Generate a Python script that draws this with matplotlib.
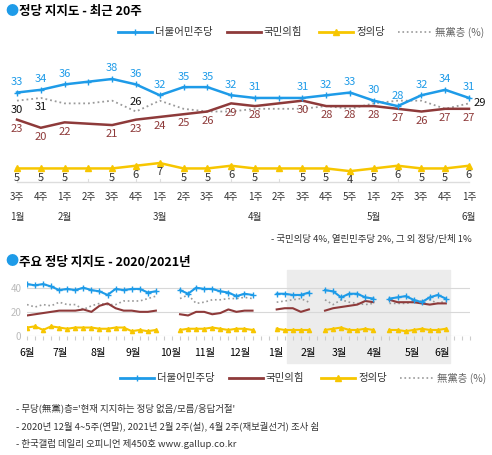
import matplotlib
matplotlib.use("Agg")
import matplotlib.pyplot as plt
import numpy as np
from matplotlib.patches import Rectangle
from matplotlib.lines import Line2D

plt.rcParams['font.family'] = ['Noto Sans CJK KR', 'DejaVu Sans']

BLUE = '#1E9BE8'; RED = '#8E3A3A'; YEL = '#F7C600'; GRAY = '#9A9A9A'

# ---- top chart: recent 20 weeks
weeks = ['3주','4주','1주','2주','3주','4주','1주','2주','3주','4주','1주','2주','3주','4주','5주','1주','2주','3주','4주','1주']
months = {0:'1월', 2:'2월', 6:'3월', 10:'4월', 15:'5월', 19:'6월'}
dem = [33,34,36,37,38,36,32,35,35,32,31,31,31,32,33,30,28,32,34,31]
dem_lbl = [1,1,1,0,1,1,1,1,1,1,1,0,1,1,1,1,1,1,1,1]
ppp = [23,20,22,21.5,21,23,24,25,26,29,28,29,30,28,28,28,27,26,27,27]
ppp_lbl = [1,1,1,0,1,1,1,1,1,1,1,0,1,1,1,1,1,1,1,1]
jus = [5,5,5,5,5,6,7,5,5,6,5,5,5,5,4,5,6,5,5,6]
jus_lbl = [1,1,1,0,1,1,1,1,1,1,1,0,1,1,1,1,1,1,1,1]
ind = [30,31,29,29,30,26,30,27,26,26,27,27,27,28,27,29,30,30,27,29]
ind_lbl = [1,1,0,0,0,1,0,0,0,0,0,0,0,0,0,0,0,0,0,1]

# ---- bottom chart: weekly 2020/2021 (None = no survey)
N = None
dem2 = [43,42,43,41,38,39,38,40,38,37,34,39,38,39,39,36,37, N,N, 38,35,40,39,39,37,36,33,35,34, N,N, 35,35,34,34,36, N, 38,37,32,35,35,32,31, N, 31,32,33,30,28,32,34,31]
ppp2 = [17,18,19,20,21,21,21,22,20,25,27,23,21,21,20,20,21, N,N, 18,17,20,20,18,19,22,20,21,21, N,N, 22,23,23,20,22, N, 21,23,24,25,26,29,28, N, 30,28,28,28,27,26,27,27]
jus2 = [7,8,5,8,7,6,7,7,7,6,6,7,7,4,5,4,5, N,N, 5,6,6,6,7,6,5,6,6,5, N,N, 6,5,5,5,5, N, 5,6,7,5,5,6,5, N, 5,5,4,5,6,5,5,6]
ind2 = [26,24,26,25,28,26,26,22,25,27,26,26,29,29,29,31,33, N,N, 31,34,27,28,30,30,31,31,32,31, N,N, 28,29,30,31,28, N, 30,26,30,28,27,26,27, N, 27,27,27,28,29,30,27,29]
month_lbl2 = ['6월','7월','8월','9월','10월','11월','12월','1월','2월','3월','4월','5월','6월']
month_pos2 = [0,4.1,8.8,13.2,17.8,22.1,26.4,30.9,34.9,38.8,43.2,47.9,51.5]

W, H = 492, 455
fig = plt.figure(figsize=(W/100, H/100), dpi=100)

def fx(x): return x / W
def fy(y): return 1 - y / H

# titles
fig.text(fx(5), fy(12), '●', color=BLUE, fontsize=9.5, va='center')
fig.text(fx(19), fy(12), '정당 지지도 - 최근 20주', fontsize=9, fontweight='bold', va='center')
fig.text(fx(5), fy(262), '●', color=BLUE, fontsize=9.5, va='center')
fig.text(fx(19), fy(262), '주요 정당 지지도 - 2020/2021년', fontsize=9, fontweight='bold', va='center')

def legend(y, x0):
    items = [('더불어민주당', BLUE, '-', '+'), ('국민의힘', RED, '-', None),
             ('정의당', YEL, '-', '^'), ('無黨층 (%)', GRAY, ':', None)]
    xs = x0
    widths = [72, 55, 42, 60]
    for (name, c, ls, m), w in zip(items, widths):
        fig.add_artist(Line2D([fx(xs), fx(xs+34)], [fy(y), fy(y)], color=c, ls=ls, lw=2 if ls == '-' else 1.2))
        if m:
            fig.add_artist(Line2D([fx(xs+17)], [fy(y)], color=c, marker=m, ms=4, lw=0))
        fig.text(fx(xs+37), fy(y), name, fontsize=7.5, va='center', color='#333' if ls == '-' else '#666')
        xs += 37 + w
legend(32, 118)
legend(378, 120)

# top axes
ax = fig.add_axes([fx(17), fy(182), fx(469) - fx(17), (182 - 60) / H])
ax.set_xlim(0, 19); ax.set_ylim(0, 45)
ax.axis('off')
x = np.arange(20)
ax.plot([0, 19], [0, 0], color='#ddd', lw=1, clip_on=False)
for i in x:
    ax.plot([i, i], [0, 1], color='#ddd', lw=0.8)
ax.plot(x, ind, color=GRAY, ls=':', lw=1.3, clip_on=False)
ax.plot(x, ppp, color=RED, lw=1.8, clip_on=False)
ax.plot(x, dem, color=BLUE, lw=1.8, marker='+', ms=5, clip_on=False)
ax.plot(x, jus, color=YEL, lw=1.8, marker='^', ms=4, clip_on=False)
fs = 8
for i in x:
    if dem_lbl[i]: ax.annotate(str(dem[i]), (i, dem[i]), xytext=(0, 4), textcoords='offset points', ha='center', va='bottom', color=BLUE, fontsize=fs)
    if ppp_lbl[i]: ax.annotate(str(int(ppp[i])), (i, ppp[i]), xytext=(0, -3), textcoords='offset points', ha='center', va='top', color=RED, fontsize=fs)
    if jus_lbl[i]: ax.annotate(str(jus[i]), (i, jus[i]), xytext=(0, -3), textcoords='offset points', ha='center', va='top', color='#333', fontsize=fs)
    if ind_lbl[i]:
        if i == 19:
            ax.annotate(str(ind[i]), (i, ind[i]), xytext=(8, 0), textcoords='offset points', ha='center', va='center', color='#111', fontsize=fs)
        elif i == 5:
            ax.annotate(str(ind[i]), (i, ind[i]), xytext=(0, 3), textcoords='offset points', ha='center', va='bottom', color='#111', fontsize=fs)
        else:
            ax.annotate(str(ind[i]), (i, ind[i]), xytext=(0, -3), textcoords='offset points', ha='center', va='top', color='#111', fontsize=fs)
for i, w in enumerate(weeks):
    ax.text(i, -15/122, w, transform=ax.get_xaxis_transform(), ha='center', va='center', fontsize=7, color='#333')
for i, m in months.items():
    ax.text(i, -35/122, m, transform=ax.get_xaxis_transform(), ha='center', va='center', fontsize=7, color='#333')
fig.text(fx(472), fy(238), '- 국민의당 4%, 열린민주당 2%, 그 외 정당/단체 1%', ha='right', va='center', fontsize=6.8, color='#333')

# bottom axes
fig.add_artist(Rectangle((fx(287), fy(363)), fx(450) - fx(287), (363 - 270) / H, color='#ececec', zorder=0))
bx = fig.add_axes([fx(27), fy(336), fx(470) - fx(27), (336 - 272) / H])
bx.patch.set_alpha(0)
bx.set_xlim(0, 55); bx.set_ylim(0, 53)
for s in bx.spines.values(): s.set_visible(False)
for v in [20, 40]:
    bx.axhline(v, color='#d8d8d8', lw=0.8)
bx.axhline(0, color='#cfcfcf', lw=0.8)
bx.set_yticks([0, 20, 40]); bx.set_yticklabels(['0', '20', '40'], color='#bbb', fontsize=7)
bx.tick_params(axis='y', length=0, pad=4)
bx.set_xticks(np.arange(0, 56)); bx.set_xticklabels([])
bx.tick_params(axis='x', length=3, color='#ccc')
xw = np.arange(len(dem2))
arr = lambda a: np.array([np.nan if v is None else v for v in a], float)
bx.plot(xw, arr(ind2), color=GRAY, ls=':', lw=1.2)
bx.plot(xw, arr(ppp2), color=RED, lw=1.5)
bx.plot(xw, arr(dem2), color=BLUE, lw=1.5, marker='+', ms=4)
bx.plot(xw, arr(jus2), color=YEL, lw=1.5, marker='^', ms=3)
for p, m in zip(month_pos2, month_lbl2):
    bx.text(p, -17/64, m, transform=bx.get_xaxis_transform(), ha='center', va='center', fontsize=7.5)

notes = ["- 무당(無黨)층='현재 지지하는 정당 없음/모름/응답거절'",
         "- 2020년 12월 4~5주(연말), 2021년 2월 2주(설), 4월 2주(재보궐선거) 조사 쉼",
         "- 한국갤럽 데일리 오피니언 제450호 www.gallup.co.kr"]
for k, t in enumerate(notes):
    fig.text(fx(16), fy(408 + 18 * k), t, fontsize=6.8, va='center', color='#333')

fig.savefig('out.png', dpi=100)
